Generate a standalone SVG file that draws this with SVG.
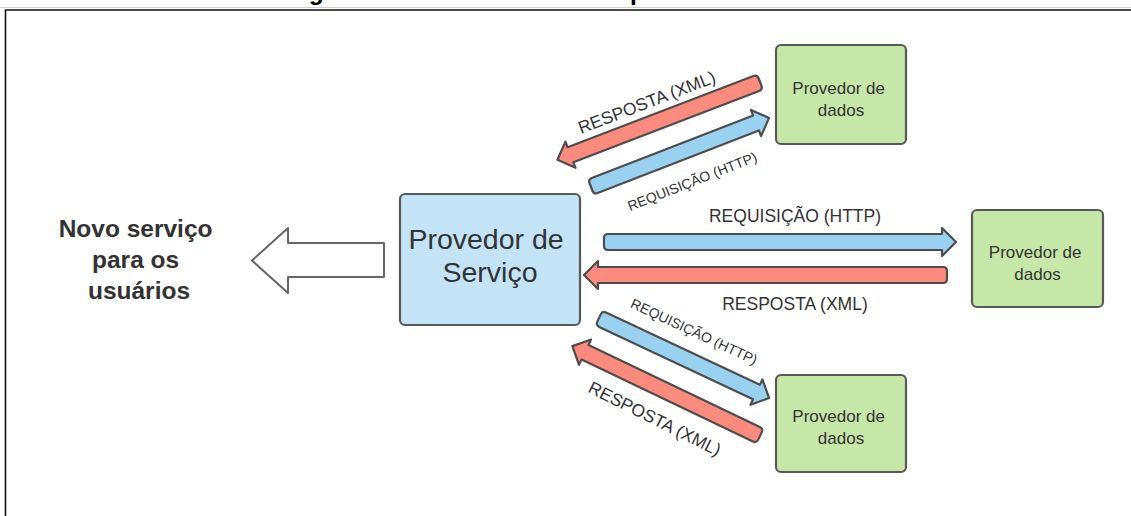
<svg xmlns="http://www.w3.org/2000/svg" width="1131" height="516" viewBox="0 0 1131 516">
  <style>
    .caption { font-family: "Liberation Sans", Arial, sans-serif; font-weight: bold; font-size: 24.5px; fill: #000; }
    .lbl { font-family: "Liberation Sans", Arial, sans-serif; fill: #333; }
    .box { stroke: #595959; stroke-width: 2.2; }
    .svc { fill: #c3e3f6; }
    .data { fill: #c5e8a8; }
    .arrow { stroke: #4d4d4d; stroke-width: 2.2; stroke-linejoin: round; }
    .req { fill: #99d1f1; }
    .resp { fill: #fd8b7d; }
    .link { font-size: 17.5px; }
    .small { font-size: 14px; }
  </style>

  <!-- page frame and caption -->
  <line x1="0" y1="7.5" x2="1131" y2="7.5" stroke="#cfcfcf" stroke-width="1"/>
  <path d="M5.5,516 V10 H1131" fill="none" stroke="#111" stroke-width="1.6"/>
  <text class="caption" x="287" y="0.3">Figura 1 - Funcionamento do protocolo</text>

  <!-- result for the users -->
  <g id="novo-servico">
    <text class="lbl" font-weight="bold" font-size="24.5px" text-anchor="middle">
      <tspan x="139" y="237">Novo serviço</tspan>
      <tspan x="139" y="268">para os</tspan>
      <tspan x="139" y="299">usuários</tspan>
    </text>
    <path d="M384,243 H288 V228 L252,260.5 L288,293 V277 H384 Z" fill="#fff" stroke="#666" stroke-width="2" stroke-linejoin="round"/>
  </g>

  <g id="provedor-servico">
    <rect class="box svc" x="400" y="194" width="180" height="131" rx="5"/>
    <text class="lbl" font-size="28.5px" text-anchor="middle">
      <tspan x="490" y="249">Provedor de</tspan>
      <tspan x="490" y="282">Serviço</tspan>
    </text>
  </g>

  <g id="provedor-dados-1">
    <rect class="box data" x="776" y="45" width="130" height="99" rx="5"/>
    <text class="lbl" font-size="17px" text-anchor="middle">
      <tspan x="841" y="94">Provedor de</tspan>
      <tspan x="841" y="116">dados</tspan>
    </text>
  </g>

  <g id="provedor-dados-2">
    <rect class="box data" x="972" y="210" width="131" height="97" rx="5"/>
    <text class="lbl" font-size="17px" text-anchor="middle">
      <tspan x="1037.5" y="258">Provedor de</tspan>
      <tspan x="1037.5" y="280">dados</tspan>
    </text>
  </g>

  <g id="provedor-dados-3">
    <rect class="box data" x="776" y="375" width="130" height="97" rx="5"/>
    <text class="lbl" font-size="17px" text-anchor="middle">
      <tspan x="841" y="422">Provedor de</tspan>
      <tspan x="841" y="444">dados</tspan>
    </text>
  </g>

  <!-- request / response block arrows: rounded tail, chevron head -->
  <g id="connectors">
    <!-- upper pair -->
    <path class="arrow resp" transform="translate(760,82) rotate(159)" d="M4,-8 H203 V-14 L217,0 L203,14 V8 H4 Q0,8 0,4 V-4 Q0,-8 4,-8 Z"/>
    <path class="arrow req" transform="translate(591,187) rotate(-21.2)" d="M4,-8 H177 V-14 L191,0 L177,14 V8 H4 Q0,8 0,4 V-4 Q0,-8 4,-8 Z"/>
    <text class="lbl link" text-anchor="middle" transform="translate(649,108) rotate(-21)">RESPOSTA (XML)</text>
    <text class="lbl small" text-anchor="middle" transform="translate(694,186) rotate(-21.5)">REQUISIÇÃO (HTTP)</text>

    <!-- middle pair -->
    <path class="arrow req" transform="translate(604,242)" d="M4,-8 H338 V-14 L352,0 L338,14 V8 H4 Q0,8 0,4 V-4 Q0,-8 4,-8 Z"/>
    <path class="arrow resp" transform="translate(947,275) rotate(180)" d="M4,-8 H349 V-14 L363,0 L349,14 V8 H4 Q0,8 0,4 V-4 Q0,-8 4,-8 Z"/>
    <text class="lbl link" x="795" y="222" text-anchor="middle">REQUISIÇÃO (HTTP)</text>
    <text class="lbl link" x="795" y="310" text-anchor="middle">RESPOSTA (XML)</text>

    <!-- lower pair -->
    <path class="arrow req" transform="translate(599,318) rotate(25.2)" d="M4,-8 H174 V-14 L188,0 L174,14 V8 H4 Q0,8 0,4 V-4 Q0,-8 4,-8 Z"/>
    <path class="arrow resp" transform="translate(760,436) rotate(205.6)" d="M4,-8 H194 V-14 L208,0 L194,14 V8 H4 Q0,8 0,4 V-4 Q0,-8 4,-8 Z"/>
    <text class="lbl small" text-anchor="middle" transform="translate(692,336) rotate(25)">REQUISIÇÃO (HTTP)</text>
    <text class="lbl link" text-anchor="middle" transform="translate(652,424) rotate(26.5)">RESPOSTA (XML)</text>
  </g>
</svg>
